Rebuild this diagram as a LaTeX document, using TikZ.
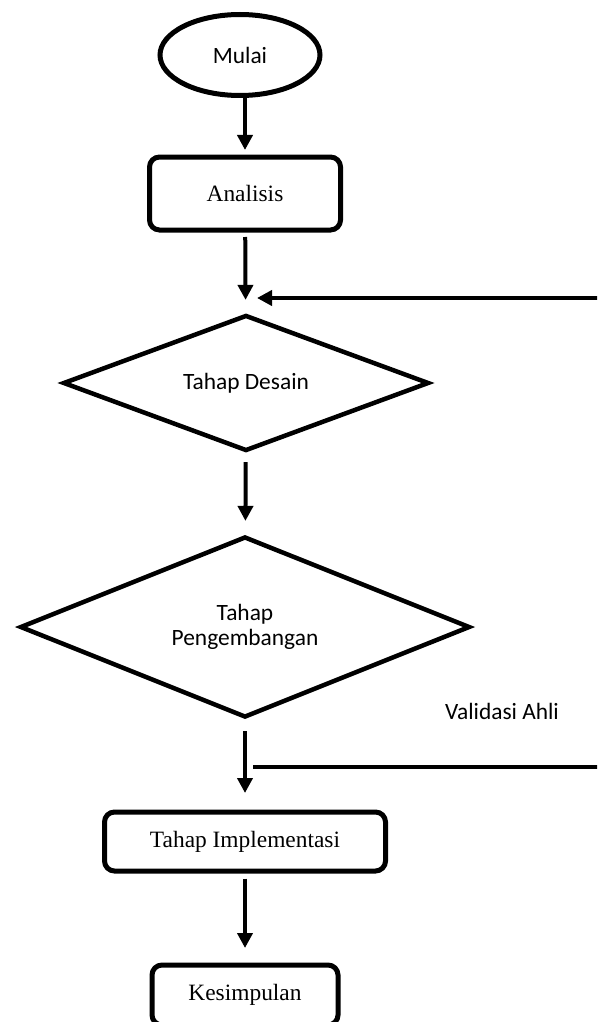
\documentclass[tikz,border=0pt]{standalone}
\usepackage{fontspec}
\setmainfont{Liberation Serif}
\newfontfamily\calibri{Carlito}
\usetikzlibrary{shapes.geometric,arrows.meta}

\begin{document}
\begin{tikzpicture}[x=1pt, y=-1pt,
        every node/.style={font=\fontsize{23.4}{25}\selectfont},
        proses/.style={rectangle, rounded corners=10pt, draw, line width=5pt},
        keputusan/.style={diamond, aspect=2.7, draw, line width=4.5pt, inner sep=0pt, font=\calibri\fontsize{23.4}{25}\selectfont},
        panah/.style={-{Triangle[width=15pt,length=15pt]}, line width=4pt}]
        \useasboundingbox (0,0) rectangle (597,1022);
        \clip (0,0) rectangle (597,1022);

        % nodes
        \node(mulai) [ellipse, draw, line width=5pt, minimum width=160pt, minimum height=81pt, font=\calibri\fontsize{23.4}{25}\selectfont] at (240, 55) {Mulai};
        \node(analisis) [proses, minimum width=191pt, minimum height=73pt] at (245, 193.5) {Analisis};
        \node(desain) [keputusan, minimum width=366pt, minimum height=136pt] at (246, 383) {Tahap Desain};
        \node(pengembangan) [keputusan, minimum width=450pt, minimum height=181pt, align=center] at (245, 627) {Tahap\\Pengembangan};
        \node(implementasi) [proses, minimum width=281pt, minimum height=59pt] at (245, 841.5) {Tahap Implementasi};
        \node(kesimpulan) [proses, minimum width=186pt, minimum height=60pt] at (245, 995) {Kesimpulan};

        \node(validasi) [font=\calibri\fontsize{23.4}{25}\selectfont] at (502, 711) {Validasi Ahli};

        \coordinate(balik) at (600, 298);
        \coordinate(masuk) at (257, 298);
        \coordinate(ahli) at (600, 767);
        \coordinate(gabung) at (253, 767);

        %edges
        \draw[panah, shorten >=4.5pt] (mulai.south -| analisis.north) -- (analisis.north);
        \draw[panah, shorten <=4.5pt, shorten >=13pt] (analisis) -- (desain);
        \draw[panah] (balik) -- (masuk);
        \draw[panah, shorten <=9pt, shorten >=13.5pt] (desain) -- (pengembangan);
        \draw[panah, shorten <=11.5pt, shorten >=16.5pt] (pengembangan) -- (implementasi);
        \draw[line width=4pt] (ahli) -- (gabung);
        \draw[panah, shorten <=5pt, shorten >=14.5pt] (implementasi) -- (kesimpulan);

    \end{tikzpicture}
\end{document}
